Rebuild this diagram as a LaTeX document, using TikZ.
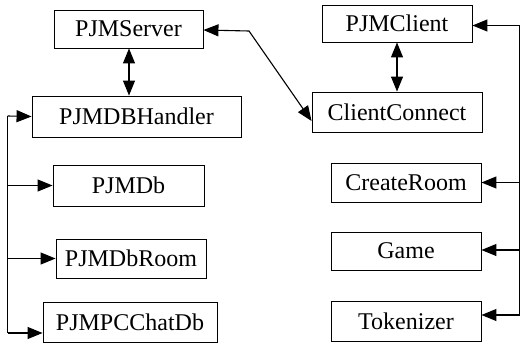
\documentclass[tikz,border=0pt]{standalone}
\usepackage{fontspec}
\setmainfont{Liberation Serif}
\usetikzlibrary{arrows.meta}
\begin{document}
\begin{tikzpicture}[x=1pt,y=-1pt,
  cls/.style={draw, line width=0.9pt, inner sep=0pt, font=\fontsize{24}{28}\selectfont},
  link/.style={line width=1.1pt, -{Triangle[length=15pt,width=12pt]}},
  both/.style={line width=1.1pt, {Triangle[length=15pt,width=12pt]}-{Triangle[length=15pt,width=12pt]}}]
\useasboundingbox (0,0) rectangle (521,345);

% server side classes
\node[cls, minimum width=149pt, minimum height=38pt] (srv)  at (128.5,29)   {PJMServer};
\node[cls, minimum width=209pt, minimum height=41pt] (dbh)  at (136.5,116.5){PJMDBHandler};
\node[cls, minimum width=151pt, minimum height=41pt] (db)   at (128.5,185.5){PJMDb};
\node[cls, minimum width=150pt, minimum height=39pt] (dbr)  at (131,258.5)  {PJMDbRoom};
\node[cls, minimum width=174pt, minimum height=40pt] (chat) at (130,322.5)  {PJMPCChatDb};

% client side classes
\node[cls, minimum width=150pt, minimum height=37pt] (cli)  at (397,23.5)   {PJMClient};
\node[cls, minimum width=170pt, minimum height=40pt] (cc)   at (397,112)    {ClientConnect};
\node[cls, minimum width=150pt, minimum height=39pt] (cr)   at (406,182.5)  {CreateRoom};
\node[cls, minimum width=150pt, minimum height=38pt] (game) at (406,251)    {Game};
\node[cls, minimum width=150pt, minimum height=40pt] (tok)  at (406,321)    {Tokenizer};

% two-way links
\draw[both] (srv.south -| 129,0) -- (dbh.north -| 129,0);
\draw[both] (cli.south) -- (cc.north);

% server <-> client connection
\coordinate (bend) at (249,31);
\draw[both] (srv.east |- 0,30) -- (bend) -- (cc.west |- 0,121);

% left bus
\coordinate (lt) at (7.5,116);
\coordinate (lb) at (7.5,333);
\draw[line width=1.1pt] (lt) -- (lb);
\draw[link] (lt) -- (dbh.west);
\draw[link] (lt |- db.west) -- (db.west);
\draw[link] (lt |- dbr.west) -- (dbr.west);
\draw[link] (lb) -- (lb -| chat.west);

% right bus
\coordinate (rt) at (519.5,25.5);
\coordinate (rb) at (519.5,315);
\draw[line width=1.1pt] (rt) -- (rb);
\draw[link] (rt) -- (rt -| cli.east);
\draw[link] (rt |- cr.east) -- (cr.east);
\draw[link] (rt |- 0,250) -- (game.east |- 0,250);
\draw[link] (rb) -- (rb -| tok.east);
\end{tikzpicture}
\end{document}
